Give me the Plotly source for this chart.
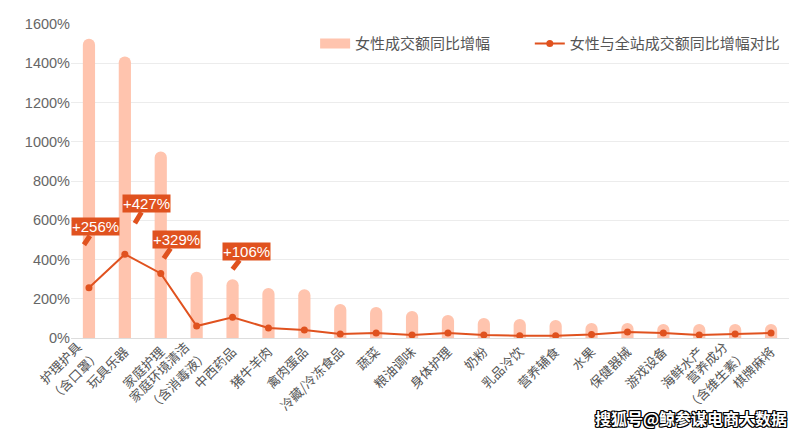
import plotly.graph_objects as go

categories = ["护理护具<br>（含口罩）", "玩具乐器", "家庭护理", "家庭环境清洁<br>（含消毒液）", "中西药品",
              "猪牛羊肉", "禽肉蛋品", "冷藏/冷冻食品", "蔬菜", "粮油调味", "身体护理", "奶粉",
              "乳品冷饮", "营养辅食", "水果", "保健器械", "游戏设备", "海鲜水产",
              "营养成分<br>（含维生素）", "棋牌麻将"]
female_growth = [1525, 1435, 950, 338, 300, 255, 248, 173, 158, 138, 117, 102, 97, 92, 76, 76, 71, 71, 71, 71]
female_vs_site = [256, 427, 329, 61, 106, 51, 41, 20, 25, 15, 25, 15, 12, 12, 18, 30, 25, 15, 20, 25]
y_tickvals = [0, 200, 400, 600, 800, 1000, 1200, 1400, 1600]
y_ticktext = [f"{v}%" for v in y_tickvals]
callout_idx = [0, 1, 2, 4]
callout_offsets = [(-5, 43, 12, -18), (10, 31, 12, -20), (3, 15, 13, -19), (0, 48, 14, -18)]

FONT = "Noto Sans CJK SC, Noto Sans, sans-serif"
LFONT = "Liberation Sans, Arial, sans-serif"
BAR_C = "#ffc4ae"
LINE_C = "#e0521f"

n = len(categories)
single_text = [c if "<br>" not in c else "" for c in categories]
multi_idx = [i for i, c in enumerate(categories) if "<br>" in c]
line1_text = [categories[i].split("<br>")[0] for i in multi_idx]
line2_text = [categories[i].split("<br>")[1] for i in multi_idx]
step_px = 718 / n
shift1 = 11 / step_px   # first line moved left (px -> category units)
shift2 = -8 / step_px   # second line moved right

fig = go.Figure()
fig.add_trace(go.Bar(
    x=categories, y=female_growth, name="女性成交额同比增幅",
    marker=dict(color=BAR_C, cornerradius="50%", line=dict(width=0)),
    width=0.34, showlegend=False,
))
fig.add_trace(go.Scatter(
    x=[categories[0]], y=[None], name="女性成交额同比增幅", mode="lines",
    line=dict(color=BAR_C, width=14), legend="legend",
))
fig.add_trace(go.Scatter(
    x=categories, y=female_vs_site, name="女性与全站成交额同比增幅对比",
    mode="lines+markers",
    line=dict(color=LINE_C, width=2),
    marker=dict(color=LINE_C, size=7), legend="legend2",
))
for ax_name in ["x2", "x3"]:
    fig.add_trace(go.Scatter(
        x=[0], y=[None], xaxis=ax_name, showlegend=False, hoverinfo="skip", mode="markers",
    ))

annotations = []
for i, (xs, ys, ax, ay) in zip(callout_idx, callout_offsets):
    annotations.append(dict(
        x=categories[i], y=female_vs_site[i], xref="x", yref="y",
        xshift=xs, yshift=ys,
        text=f"+{female_vs_site[i]}%",
        showarrow=True, arrowhead=0, arrowwidth=5, arrowcolor=LINE_C,
        ax=ax, ay=ay, standoff=0,
        bgcolor=LINE_C, borderpad=0,
        font=dict(family=LFONT, size=15, color="white"),
    ))
annotations.append(dict(
    x=1, y=0, xref="paper", yref="paper", xanchor="right", yanchor="top",
    xshift=0, yshift=-66,
    text="<b>搜狐号@鲸参谋电商大数据</b>", showarrow=False,
    font=dict(family=FONT, size=16, color="white",
              shadow="1px 1px 0 #000, -1px -1px 0 #000, 1px -1px 0 #000, -1px 1px 0 #000, 0 1px 0 #000, 0 -1px 0 #000, 1px 0 0 #000, -1px 0 0 #000"),
))

legend_style = dict(orientation="h", y=0.99, yanchor="top", xanchor="left",
                    font=dict(size=15, color="#555"), bgcolor="rgba(0,0,0,0)")

label_axis = dict(overlaying="x", anchor="y", side="bottom", type="linear",
                  tickangle=-45, tickfont=dict(size=13, color="#555", family=FONT),
                  showgrid=False, showline=False, zeroline=False, ticks="", automargin=False)

fig.update_layout(
    width=806, height=433,
    margin=dict(l=71, r=17, t=24, b=95, autoexpand=False),
    paper_bgcolor="white", plot_bgcolor="white",
    font=dict(family=FONT, color="#666"),
    showlegend=True,
    legend=dict(x=0.34, **legend_style),
    legend2=dict(x=0.639, **legend_style),
    annotations=annotations,
    bargap=0.5,
    xaxis=dict(
        range=[-0.5, n - 0.5], tickvals=categories, ticktext=single_text,
        tickangle=-45, tickfont=dict(size=13, color="#555", family=FONT),
        showgrid=False, showline=True, linecolor="#ddd", ticks="", automargin=False,
    ),
    xaxis2=dict(range=[-0.5 + shift1, n - 0.5 + shift1], ticklabelstandoff=-2,
                tickvals=multi_idx, ticktext=line1_text, **label_axis),
    xaxis3=dict(range=[-0.5 + shift2, n - 0.5 + shift2], ticklabelstandoff=6,
                tickvals=multi_idx, ticktext=line2_text, **label_axis),
    yaxis=dict(
        range=[0, 1600], tickvals=y_tickvals, ticktext=y_ticktext,
        tickfont=dict(size=14.5, color="#666", family=LFONT),
        showgrid=True, gridcolor="#ececec", zeroline=False, showline=False, ticks="",
        automargin=False,
    ),
)

fig.write_html("out.html")
